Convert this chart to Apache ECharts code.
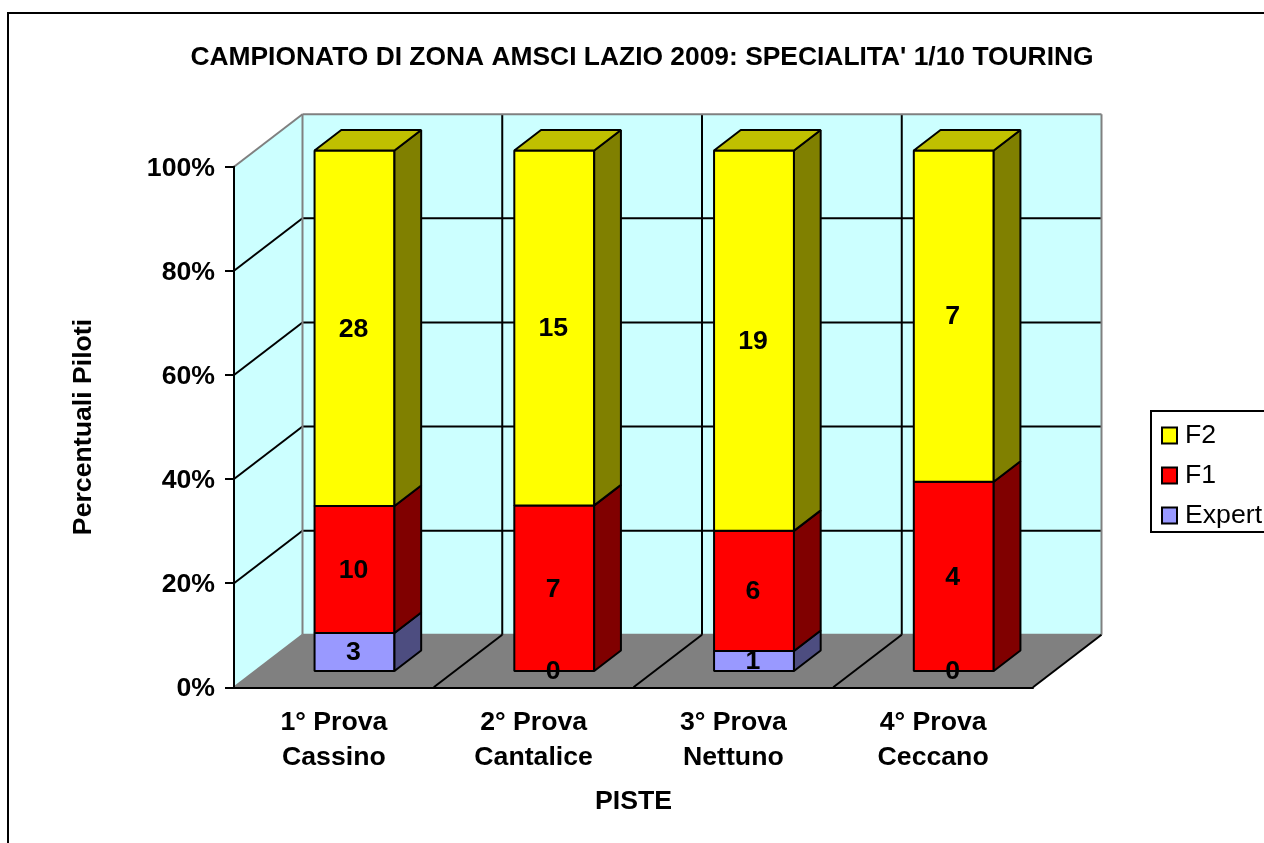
<!DOCTYPE html>
<html><head><meta charset="utf-8">
<style>html,body{margin:0;padding:0;background:#fff;overflow:hidden}#c{width:1264px;height:843px}</style>
<script src="https://cdn.jsdelivr.net/npm/echarts@6/dist/echarts.min.js"></script>
</head><body><div id="c"></div>
<script>
const categories = ['1° Prova\nCassino','2° Prova\nCantalice','3° Prova\nNettuno','4° Prova\nCeccano'];
const expert = [3,0,1,0];
const f1 = [10,7,6,4];
const f2 = [28,15,19,7];
const yTicks = [0,0.2,0.4,0.6,0.8,1];
const titleText = "CAMPIONATO DI ZONA AMSCI LAZIO 2009: SPECIALITA' 1/10 TOURING";
const FONT = '"Liberation Sans", Arial, sans-serif';
const SIZE = 26.67;

// oblique projection of the 3D box
const DX = 68.5, DY = -52.5;
const barZ0 = 0.31, barZ1 = 0.70, barW = 0.4, barNudge = -0.6;
const proj = (p, z) => [p[0] + DX * z, p[1] + DY * z];

const totals = categories.map((_, i) => expert[i] + f1[i] + f2[i]);
function stackData(own, below) {
  return categories.map((_, i) => {
    const base = below.reduce((s, a) => s + a[i], 0);
    return [i, base / totals[i], (base + own[i]) / totals[i], own[i]];
  });
}
const EDGE = { stroke: '#000', lineWidth: 2, lineJoin: 'bevel' };
function poly(points, fill, z2) {
  return { type: 'polygon', shape: { points }, style: Object.assign({ fill }, EDGE), z2: z2 || 10 };
}
function barRender(front, side, top) {
  return function (params, api) {
    const i = api.value(0), y0 = api.value(1), y1 = api.value(2), n = api.value(3);
    const band = api.size([1, 0])[0];
    const c0 = api.coord([i, y0]), c1 = api.coord([i, y1]);
    const xl = c0[0] - band * barW / 2 + barNudge, xr = c0[0] + band * barW / 2 + barNudge;
    const a = proj([xl, c0[1]], barZ0), b = proj([xr, c0[1]], barZ0);
    const d = proj([xr, c1[1]], barZ0), e = proj([xl, c1[1]], barZ0);
    const b2 = proj([xr, c0[1]], barZ1), d2 = proj([xr, c1[1]], barZ1), e2 = proj([xl, c1[1]], barZ1);
    const children = [];
    if (n > 0) {
      children.push(poly([a, b, d, e], front));
      children.push(poly([b, b2, d2, d], side));
      if (top) children.push(poly([e, d, d2, e2], top));
    }
    children.push({
      type: 'text', z2: 100,
      style: { text: String(n), x: (a[0] + b[0]) / 2 - 1, y: (a[1] + e[1]) / 2 + 1, align: 'center', verticalAlign: 'middle',
        fill: '#000', font: 'bold ' + SIZE + 'px ' + FONT }
    });
    return { type: 'group', children };
  };
}
function wallRender(params, api) {
  const n = categories.length;
  const band = api.size([1, 0])[0];
  const at = (k, v) => { const c = api.coord([0, v]); return [c[0] - band / 2 + k * band, c[1]]; };
  const GRAY = { stroke: '#808080', lineWidth: 2 };
  const LINE = { stroke: '#000', lineWidth: 2 };
  const seg = (p, q, st, z2) => ({ type: 'line', shape: { x1: p[0], y1: p[1], x2: q[0], y2: q[1] }, style: st, z2 });
  const fl = at(0, 0), fr = at(n, 0), tl = at(0, 1), tr = at(n, 1);
  const ch = [];
  ch.push({ type: 'polygon', shape: { points: [fl, tl, proj(tl, 1), proj(fl, 1)] }, style: { fill: '#CCFFFF' }, z2: 1 });
  ch.push({ type: 'polygon', shape: { points: [proj(fl, 1), proj(tl, 1), proj(tr, 1), proj(fr, 1)] }, style: { fill: '#CCFFFF' }, z2: 1 });
  ch.push({ type: 'polygon', shape: { points: [fl, proj(fl, 1), proj(fr, 1), fr] }, style: { fill: '#808080' }, z2: 1 });
  yTicks.slice(1, -1).forEach(v => {
    const p = at(0, v);
    ch.push(seg(p, proj(p, 1), LINE, 3));
    ch.push(seg(proj(p, 1), proj(at(n, v), 1), LINE, 3));
  });
  for (let k = 1; k < n; k++) {
    ch.push(seg(at(k, 0), proj(at(k, 0), 1), LINE, 3));
    ch.push(seg(proj(at(k, 0), 1), proj(at(k, 1), 1), LINE, 3));
  }
  ch.push(seg(tl, proj(tl, 1), GRAY, 4));
  ch.push(seg(proj(tl, 1), proj(tr, 1), GRAY, 4));
  ch.push(seg(proj(tl, 1), proj(fl, 1), GRAY, 4));
  ch.push(seg(proj(tr, 1), proj(fr, 1), GRAY, 4));
  ch.push(seg(proj(fl, 1), proj(fr, 1), GRAY, 2));
  ch.push(seg(fl, proj(fl, 1), GRAY, 4));
  ch.push(seg(fr, proj(fr, 1), { stroke: '#000', lineWidth: 2 }, 4));
  return { type: 'group', children: ch };
}
const barSeries = (name, data, front, side, top) => ({
  type: 'custom', name, data, coordinateSystem: 'cartesian2d', clip: false, z: 5,
  itemStyle: { color: front, borderColor: '#000', borderWidth: 2 },
  encode: { x: 0, y: [1, 2] },
  renderItem: barRender(front, side, top),
  animation: false
});
const chart = echarts.init(document.getElementById('c'), null, { renderer: 'canvas' });
chart.setOption({
  animation: false,
  backgroundColor: '#fff',
  title: { text: titleText, left: 637, top: 40, textAlign: 'center',
    textStyle: { fontFamily: FONT, fontWeight: 'bold', fontSize: 26.4, color: '#000' } },
  grid: { left: 234, top: 166.7, width: 799, height: 520.6, containLabel: false },
  legend: {
    data: ['F2', 'F1', 'Expert'], orient: 'vertical', left: 1151, top: 411,
    padding: [11, 60, 3, 10], itemGap: 13, itemWidth: 15, itemHeight: 16, icon: 'rect',
    backgroundColor: '#fff', borderColor: '#000', borderWidth: 2,
    textStyle: { fontFamily: FONT, fontSize: SIZE, color: '#000', padding: [0, 0, 0, 3] },
    selectedMode: false
  },
  xAxis: {
    type: 'category', data: categories, name: 'PISTE', nameLocation: 'middle', nameGap: 101,
    nameTextStyle: { fontFamily: FONT, fontWeight: 'bold', fontSize: SIZE, color: '#000' },
    axisLine: { lineStyle: { color: '#000', width: 2 } },
    axisTick: { length: 10, lineStyle: { color: '#000', width: 2 } },
    axisLabel: { fontFamily: FONT, fontWeight: 'bold', fontSize: SIZE, color: '#000', lineHeight: 35, margin: 18, interval: 0 },
    splitLine: { show: false }, z: 4
  },
  yAxis: {
    type: 'value', min: 0, max: 1, interval: 0.2, name: 'Percentuali Piloti', nameLocation: 'middle', nameGap: 137,
    nameTextStyle: { fontFamily: FONT, fontWeight: 'bold', fontSize: SIZE, color: '#000' },
    axisLine: { show: true, lineStyle: { color: '#000', width: 2 } },
    axisTick: { show: true, length: 9, lineStyle: { color: '#000', width: 2 } },
    axisLabel: { fontFamily: FONT, fontWeight: 'bold', fontSize: SIZE, color: '#000', margin: 19, verticalAlign: 'top', lineHeight: 3,
      formatter: v => Math.round(v * 100) + '%' },
    splitLine: { show: false }, z: 4
  },
  graphic: [{ type: 'rect', shape: { x: 8, y: 13, width: 1400, height: 1000 }, style: { fill: 'none', stroke: '#000', lineWidth: 2 }, silent: true, z: 0 }],
  series: [
    { type: 'custom', name: 'walls', data: [[0, 0]], coordinateSystem: 'cartesian2d', clip: false, z: 1, silent: true, renderItem: wallRender, encode: { x: 0, y: 1 } },
    barSeries('Expert', stackData(expert, []), '#9999FF', '#4D4D80', null),
    barSeries('F1', stackData(f1, [expert]), '#FF0000', '#800000', null),
    barSeries('F2', stackData(f2, [expert, f1]), '#FFFF00', '#808000', '#C0C000')
  ]
});
</script></body></html>
